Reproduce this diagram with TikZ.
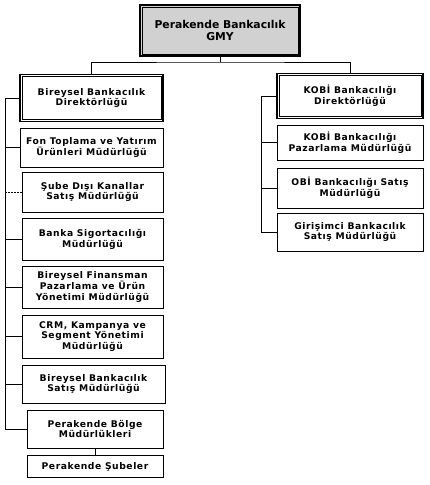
\documentclass[tikz,border=0pt]{standalone}
\usepackage{fontspec}
\newfontfamily\boxfont{DejaVu Sans}[LetterSpace=6]
\newfontfamily\topfont{DejaVu Sans}
\begin{document}
\begin{tikzpicture}[x=1pt,y=-1pt,
  orgbox/.style={draw, line width=1pt, align=center, inner sep=1pt,
    rectangle, font=\boxfont\bfseries\fontsize{9.2}{10.8}\selectfont},
  dirbox/.style={orgbox, line width=1.2pt},
  topbox/.style={dirbox, fill=black!18, font=\topfont\bfseries\fontsize{10.8}{12.8}\selectfont},
  innerline/.style={draw, line width=0.6pt},
  conn/.style={draw, line width=1pt}]
\useasboundingbox (0,0) rectangle (430,485);

\node[topbox, minimum width=160pt, minimum height=51pt] (top) at (220,30.5) {Perakende Bankacılık\\GMY};

% left column
\node[dirbox, minimum width=143pt, minimum height=47pt] (L1) at (91.5,98) {Bireysel Bankacılık\\Direktörlüğü};
\node[orgbox, minimum width=143pt, minimum height=39pt] (L2) at (91.5,147.5) {Fon Toplama ve Yatırım\\Ürünleri Müdürlüğü};
\node[orgbox, minimum width=141pt, minimum height=40pt] (L3) at (92.5,192) {Şube Dışı Kanallar\\Satış Müdürlüğü};
\node[orgbox, minimum width=141pt, minimum height=42pt] (L4) at (92.5,239) {Banka Sigortacılığı\\Müdürlüğü};
\node[orgbox, minimum width=141pt, minimum height=42pt] (L5) at (92.5,287) {Bireysel Finansman\\Pazarlama ve Ürün\\Yönetimi Müdürlüğü};
\node[orgbox, minimum width=141pt, minimum height=43pt] (L6) at (92.5,336.5) {CRM, Kampanya ve\\Segment Yönetimi\\Müdürlüğü};
\node[orgbox, minimum width=143pt, minimum height=38pt] (L7) at (93.5,384) {Bireysel Bankacılık\\Satış Müdürlüğü};
\node[orgbox, minimum width=136pt, minimum height=38pt] (L8) at (95,429) {Perakende Bölge\\Müdürlükleri};
\node[orgbox, minimum width=136pt, minimum height=22pt] (L9) at (95,466.5) {Perakende Şubeler};

% right column
\node[dirbox, minimum width=146pt, minimum height=45pt] (R1) at (350,96) {KOBİ Bankacılığı\\Direktörlüğü};
\node[orgbox, minimum width=146pt, minimum height=35pt] (R2) at (350,142.5) {KOBİ Bankacılığı\\Pazarlama Müdürlüğü};
\node[orgbox, minimum width=146pt, minimum height=40pt] (R3) at (350,188) {OBİ Bankacılığı Satış\\Müdürlüğü};
\node[orgbox, minimum width=146pt, minimum height=38pt] (R4) at (350,232) {Girişimci Bankacılık\\Satış Müdürlüğü};

% inner frames of the double-bordered boxes
\foreach \n in {top,L1,R1}{
  \path[innerline] ([shift={(2.4,2.4)}]\n.north west) rectangle ([shift={(-2.4,-2.4)}]\n.south east);
}

% connectors
\coordinate (tj) at (220,62);
\coordinate (lsp) at (5,0);
\coordinate (rsp) at (261,0);
\draw[conn] (top.south) -- (tj);
\draw[conn] (L1.north) |- (tj) -| (R1.north);

\draw[conn] (L1.west) -- (L1.west -| lsp) |- (L8.west);
\foreach \b in {L2,L4,L5,L6,L7}{\draw[conn] (\b.west) -- (\b.west -| lsp);}
\draw[line width=0.5pt, densely dotted] (L3.west) -- (L3.west -| lsp);
\draw[conn] (L8.south) -- (L9.north);

\draw[conn] (R1.west) -- (R1.west -| rsp) |- (R4.west);
\foreach \b in {R2,R3}{\draw[conn] (\b.west) -- (\b.west -| rsp);}
\end{tikzpicture}
\end{document}
